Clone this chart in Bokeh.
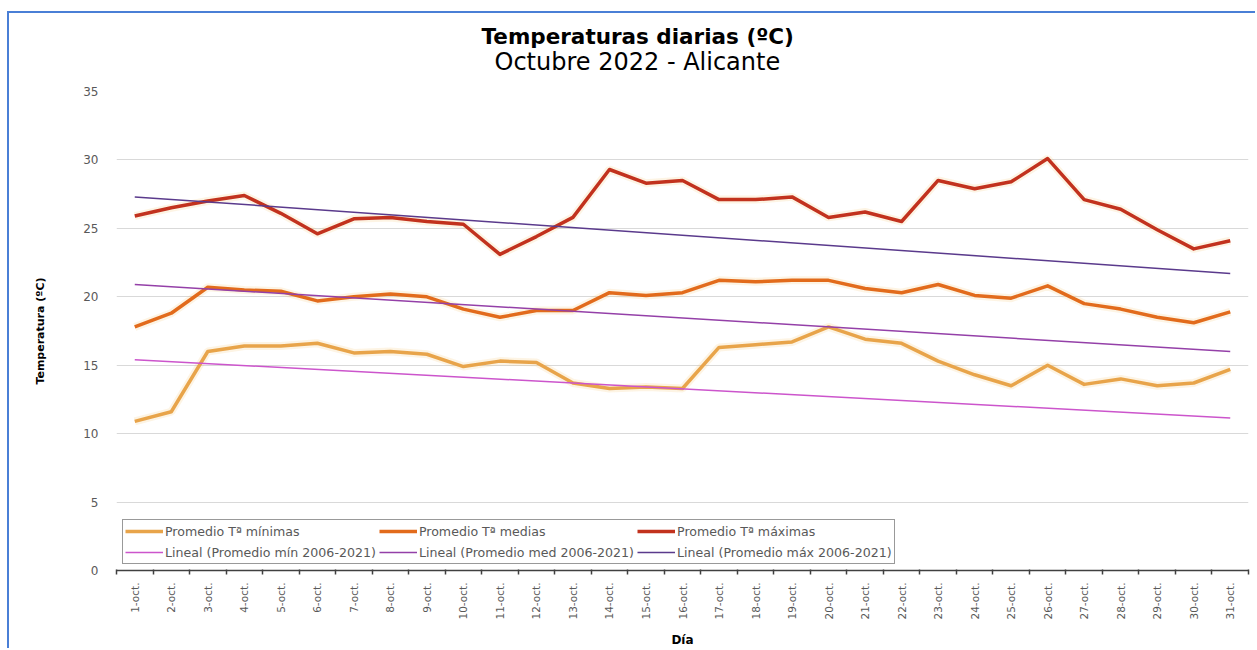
import math
from bokeh.plotting import figure
from bokeh.models import (FixedTicker, Legend, LegendItem, Title, ColumnDataSource)
from bokeh.embed import file_html
from bokeh.resources import INLINE

# ---------------- data ----------------
day_nums = list(range(1, 32))
day_labels = [f"{d}-oct." for d in day_nums]

tmax = [25.9, 26.5, 27.0, 27.4, 26.1, 24.6, 25.7, 25.8, 25.5, 25.3, 23.1,
        24.4, 25.8, 29.3, 28.3, 28.5, 27.1, 27.1, 27.3, 25.8, 26.2, 25.5,
        28.5, 27.9, 28.4, 30.1, 27.1, 26.4, 24.9, 23.5, 24.1]
tmed = [17.8, 18.8, 20.7, 20.5, 20.4, 19.7, 20.0, 20.2, 20.0, 19.1, 18.5,
        19.0, 19.0, 20.3, 20.1, 20.3, 21.2, 21.1, 21.2, 21.2, 20.6, 20.3,
        20.9, 20.1, 19.9, 20.8, 19.5, 19.1, 18.5, 18.1, 18.9]
tmin = [10.9, 11.6, 16.0, 16.4, 16.4, 16.6, 15.9, 16.0, 15.8, 14.9, 15.3,
        15.2, 13.7, 13.3, 13.4, 13.3, 16.3, 16.5, 16.7, 17.8, 16.9, 16.6,
        15.3, 14.3, 13.5, 15.0, 13.6, 14.0, 13.5, 13.7, 14.7]

# linear trend lines (2006-2021 averages), endpoints at day 1 and day 31
trend_days = [1, 31]
trend_min = [15.4, 11.15]
trend_med = [20.9, 16.0]
trend_max = [27.3, 21.7]

y_ticks = [0, 5, 10, 15, 20, 25, 30, 35]

# ---------------- styles ----------------
FONT = "DejaVu Sans"
C_MIN = "#E8A44A"
C_MED = "#E26B1C"
C_MAX = "#C2321E"
C_TMIN = "#CC55CC"
C_TMED = "#9440A8"
C_TMAX = "#5A3A8C"
GRAY_TXT = "#595959"

p = figure(width=1248, height=637, output_backend="svg", toolbar_location=None,
           x_range=(0.5, 31.5), y_range=(0, 35), title=None,
           min_border_left=107, min_border_right=9, min_border_top=78,
           min_border_bottom=79)
p.styles = {"border-top": "2px solid #4a7fd6", "border-left": "2px solid #4a7fd6",
            "margin-top": "11px", "margin-left": "7px"}
p.outline_line_color = None
p.background_fill_color = "white"
p.border_fill_color = "white"

# titles
sub = Title(text="Octubre 2022 - Alicante", align="left", offset=378,
            text_font=FONT, text_font_size="24px", text_font_style="normal",
            text_color="#000000", standoff=32, text_line_height=1.0)
p.add_layout(sub, "above")
main = Title(text="Temperaturas diarias (ºC)", align="left", offset=365,
             text_font=FONT, text_font_size="21.5px", text_font_style="bold",
             text_color="#000000", standoff=0, text_line_height=1.0)
try:
    main.standoff = -38
except Exception:
    main.standoff = 0
p.add_layout(main, "above")

# grid
p.xgrid.grid_line_color = None
p.ygrid.grid_line_color = "#d9d9d9"
p.ygrid.grid_line_width = 1.2

# x axis
xa = p.xaxis[0]
xa.ticker = FixedTicker(ticks=day_nums, minor_ticks=[d - 0.5 for d in day_nums] + [31.5])
xa.major_label_overrides = {d: lab for d, lab in zip(day_nums, day_labels)}
xa.major_label_orientation = math.pi / 2
xa.major_tick_line_color = None
xa.major_tick_in = 0
xa.major_tick_out = 0
xa.minor_tick_line_color = "#404040"
xa.minor_tick_in = 1
xa.minor_tick_out = 4
xa.minor_tick_line_width = 1.5
xa.axis_line_color = "#404040"
xa.axis_line_width = 1.5
xa.major_label_text_font = FONT
xa.major_label_text_font_size = "10.5px"
xa.major_label_text_color = GRAY_TXT
xa.major_label_standoff = 8
xa.axis_label = "Día"
xa.axis_label_text_font = FONT
xa.axis_label_text_font_size = "12px"
xa.axis_label_text_font_style = "bold"
xa.axis_label_text_color = "#000000"
xa.axis_label_standoff = 11

# y axis
ya = p.yaxis[0]
ya.ticker = FixedTicker(ticks=y_ticks)
ya.axis_line_color = None
ya.major_tick_line_color = None
ya.minor_tick_line_color = None
ya.major_tick_in = 0
ya.major_tick_out = 0
ya.major_label_text_font = FONT
ya.major_label_text_font_size = "12px"
ya.major_label_text_color = GRAY_TXT
ya.major_label_standoff = 18
ya.axis_label = "Temperatura (ºC)"
ya.axis_label_text_font = FONT
ya.axis_label_text_font_size = "11px"
ya.axis_label_text_font_style = "bold"
ya.axis_label_text_color = "#000000"
ya.axis_label_standoff = 33

src = ColumnDataSource(dict(x=day_nums, tmin=tmin, tmed=tmed, tmax=tmax))
tsrc = ColumnDataSource(dict(x=trend_days, tmin=trend_min, tmed=trend_med, tmax=trend_max))

# faint glow under the data lines
for col in ("tmin", "tmed", "tmax"):
    p.line("x", col, source=src, line_color="#F5C26B", line_width=8, line_alpha=0.18)

r_min = p.line("x", "tmin", source=src, line_color=C_MIN, line_width=3.5, line_join="round")
r_med = p.line("x", "tmed", source=src, line_color=C_MED, line_width=3.5, line_join="round")
r_max = p.line("x", "tmax", source=src, line_color=C_MAX, line_width=3.5, line_join="round")

r_tmin = p.line("x", "tmin", source=tsrc, line_color=C_TMIN, line_width=1.5)
r_tmed = p.line("x", "tmed", source=tsrc, line_color=C_TMED, line_width=1.5)
r_tmax = p.line("x", "tmax", source=tsrc, line_color=C_TMAX, line_width=1.5)

legend = Legend(items=[
    LegendItem(label="Promedio Tª mínimas", renderers=[r_min]),
    LegendItem(label="Promedio Tª medias", renderers=[r_med]),
    LegendItem(label="Promedio Tª máximas", renderers=[r_max]),
    LegendItem(label="Lineal (Promedio mín 2006-2021)", renderers=[r_tmin]),
    LegendItem(label="Lineal (Promedio med 2006-2021)", renderers=[r_tmed]),
    LegendItem(label="Lineal (Promedio máx 2006-2021)", renderers=[r_tmax]),
], ncols=3, orientation="horizontal", location=(6, 6), margin=0,
   padding=2, spacing=3, label_standoff=2, glyph_width=38, glyph_height=18,
   label_height=18,
   label_text_font=FONT, label_text_font_size="12.6px", label_text_color=GRAY_TXT,
   border_line_color="#333333", border_line_width=1.5,
   background_fill_color="white", background_fill_alpha=1.0)
p.add_layout(legend, "center")

open("out.html", "w").write(file_html(p, INLINE))
